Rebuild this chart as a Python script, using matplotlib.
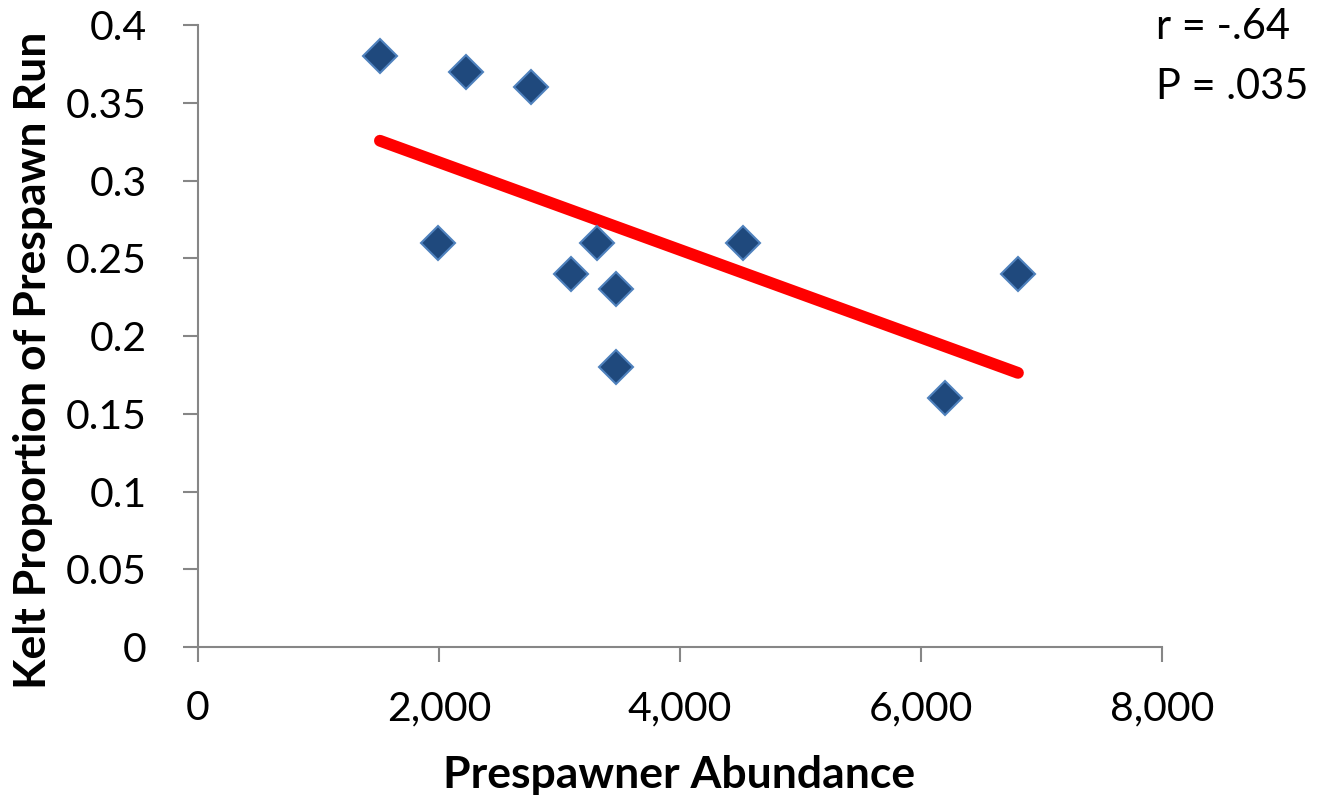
import numpy as np
import matplotlib
matplotlib.use("Agg")
import matplotlib.pyplot as plt

plt.rcParams['font.family'] = ['Lato', 'DejaVu Sans']

# prespawner abundance vs kelt proportion
abundance = [1510, 2224, 2763, 1992, 3095, 3311, 3469, 3469, 4523, 6199, 6805]
kelt_prop = [0.38, 0.37, 0.36, 0.26, 0.24, 0.26, 0.23, 0.18, 0.26, 0.16, 0.24]
x_ticks = [0, 2000, 4000, 6000, 8000]
y_ticks = [0, 0.05, 0.1, 0.15, 0.2, 0.25, 0.3, 0.35, 0.4]

fig = plt.figure(figsize=(13.18, 7.99), dpi=100)
ax = fig.add_axes([0.1502, 0.1902, 0.7314, 0.7785])

x = np.array(abundance)
y = np.array(kelt_prop)
slope, icpt = np.polyfit(x, y, 1)
xl = np.array([x.min(), x.max()])
ax.plot(xl, slope * xl + icpt, color='#ff0000', lw=8.5, solid_capstyle='round', zorder=2)

ax.plot(x, y, 'D', ms=17.5, mfc='#1f497d', mec='#4f81bd', mew=1.5, zorder=3)

ax.set_xlim(0, 8000)
ax.set_ylim(0, 0.4)
ax.set_xticks(x_ticks)
ax.set_xticklabels([f"{v:,}" for v in x_ticks])
ax.set_yticks(y_ticks)
ax.set_yticklabels(['0', '0.05', '0.1', '0.15', '0.2', '0.25', '0.3', '0.35', '0.4'])

for s in ['top', 'right']:
    ax.spines[s].set_visible(False)
for s in ['left', 'bottom']:
    ax.spines[s].set_color('#868686')
    ax.spines[s].set_linewidth(1.5)
ax.tick_params(colors='#868686', labelcolor='black', labelsize=29.5, width=1.5, length=11, direction='out')
ax.tick_params(axis='x', pad=20)
ax.tick_params(axis='y', pad=26)

ax.set_xlabel('Prespawner Abundance', fontsize=32, fontweight='bold', va='center')
ax.xaxis.set_label_coords(0.499, -0.206)
ax.set_ylabel('Kelt Proportion of Prespawn Run', fontsize=32, fontweight='bold', va='center')
ax.yaxis.set_label_coords(-0.171, 0.461)

fig.text(0.877, 0.966, 'r = -.64', fontsize=30, va='center', ha='left')
fig.text(0.877, 0.891, 'P = .035', fontsize=30, va='center', ha='left')

fig.savefig('out.png', dpi=100)
